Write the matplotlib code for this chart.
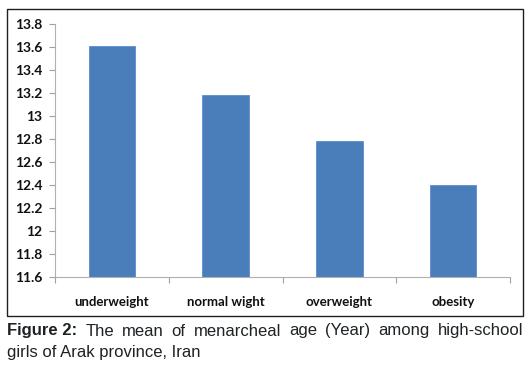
import matplotlib
matplotlib.use("Agg")
import matplotlib.pyplot as plt
from matplotlib.patches import Rectangle

categories = ["underweight", "normal wight", "overweight", "obesity"]
values = [13.61, 13.18, 12.78, 12.40]
yticks = [11.6, 11.8, 12, 12.2, 12.4, 12.6, 12.8, 13, 13.2, 13.4, 13.6, 13.8]
ytick_labels = ["11.6", "11.8", "12", "12.2", "12.4", "12.6", "12.8", "13", "13.2", "13.4", "13.6", "13.8"]
caption_bold = "Figure 2:"
caption_line1 = "The mean of menarcheal age (Year) among high-school"
caption_line2 = "girls of Arak province, Iran"

W, H = 530, 381
fig = plt.figure(figsize=(W / 100, H / 100), dpi=100)
fig.patch.set_facecolor("white")

# outer frame
fig.patches.append(Rectangle((7 / W, 1 - 316 / H), (523 - 7) / W, (316 - 9) / H,
                             transform=fig.transFigure, fill=False,
                             edgecolor="#202020", linewidth=1.0))

ax = fig.add_axes([55 / W, 1 - 277 / H, (510 - 55) / W, (277 - 24) / H])
x = list(range(len(categories)))
ax.bar(x, values, width=0.41, bottom=0, color="#4a7ebb", edgecolor="#5b8ccc", linewidth=0.6)
ax.set_xlim(-0.5, len(categories) - 0.5)
ax.set_ylim(11.6, 13.8)
ax.set_yticks(yticks)
ax.set_yticklabels(ytick_labels, fontsize=10, fontweight="bold", color="#111111", family="Lato")
ax.set_xticks(x)
ax.set_xticklabels(categories, fontsize=9.5, fontweight="bold", color="#111111", family="Lato")
ax.tick_params(axis="x", length=0, pad=14)
ax.set_xticks([i - 0.5 for i in range(len(categories) + 1)], minor=True)
ax.tick_params(axis="x", which="minor", length=4, color="#a0a0a0", width=0.8)
ax.tick_params(axis="y", length=4, color="#a0a0a0", width=0.8, pad=5)
for s in ["top", "right"]:
    ax.spines[s].set_visible(False)
for s in ["left", "bottom"]:
    ax.spines[s].set_color("#b0b0b0")
    ax.spines[s].set_linewidth(0.8)

# caption (line 1 justified to the frame width)
fs = 12
col = "#1e2225"
y1 = 1 - 331 / H
y2 = 1 - 353 / H
fig.canvas.draw()
r = fig.canvas.get_renderer()
words = [(caption_bold, "bold")] + [(w, "normal") for w in caption_line1.split(" ")]
texts = []
total = 0
for w, fw in words:
    t = fig.text(0, y1, w, fontsize=fs, fontweight=fw, family="Liberation Sans",
                 color=col, va="center", ha="left")
    wd = t.get_window_extent(renderer=r).width
    texts.append((t, wd))
    total += wd
left, right = 7, 523
gap = (right - left - total) / (len(texts) - 1)
xpos = left
for t, wd in texts:
    t.set_x(xpos / W)
    xpos += wd + gap
fig.text(left / W, y2, caption_line2, fontsize=fs, family="Liberation Sans",
         color=col, va="center", ha="left")

fig.savefig("out.png", dpi=100, facecolor="white")
